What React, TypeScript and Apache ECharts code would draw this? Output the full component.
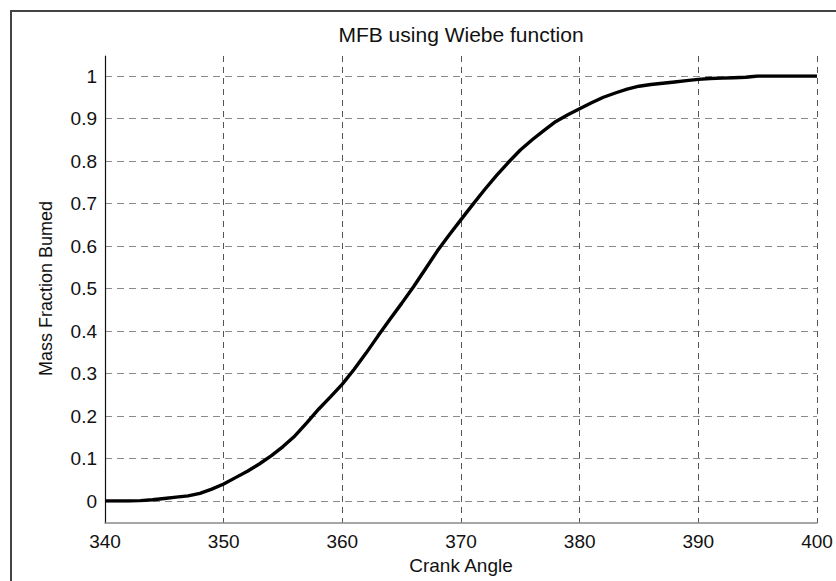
import React, { useEffect, useRef } from "react";
import * as echarts from "echarts";

const crankAngle = [
  340, 341, 342, 343, 344, 345, 346, 347, 348, 349,
  350, 351, 352, 353, 354, 355, 356, 357, 358, 359,
  360, 361, 362, 363, 364, 365, 366, 367, 368, 369,
  370, 371, 372, 373, 374, 375, 376, 377, 378, 379,
  380, 381, 382, 383, 384, 385, 386, 387, 388, 389,
  390, 391, 392, 393, 394, 395, 396, 397, 398, 399, 400,
];

const massFractionBurned = [
  0, 0, 0, 0.001, 0.003, 0.006, 0.009, 0.012, 0.018, 0.028,
  0.04, 0.055, 0.07, 0.087, 0.106, 0.128, 0.153, 0.184, 0.216, 0.245,
  0.275, 0.31, 0.348, 0.388, 0.427, 0.465, 0.504, 0.546, 0.588, 0.626,
  0.662, 0.698, 0.733, 0.766, 0.797, 0.826, 0.85, 0.872, 0.893, 0.909,
  0.923, 0.937, 0.95, 0.96, 0.969, 0.976, 0.98, 0.983, 0.986, 0.989,
  0.992, 0.994, 0.995, 0.996, 0.997, 1, 1, 1, 1, 1, 1,
];

const xTickLabels = ["340", "350", "360", "370", "380", "390", "400"];
const yTickLabels = ["0", "0.1", "0.2", "0.3", "0.4", "0.5", "0.6", "0.7", "0.8", "0.9", "1"];

const titleText = "MFB using Wiebe function";
const xName = "Crank Angle";
const yName = "Mass Fraction Bumed";

export default function App() {
  const ref = useRef<HTMLDivElement>(null);

  useEffect(() => {
    if (!ref.current) return;
    const chart = echarts.init(ref.current, null, { renderer: "svg" });
    const font = '"Liberation Sans", Arial, Helvetica, sans-serif';
    const labelStyle = { color: "#111", fontSize: 19, fontFamily: font };

    chart.setOption({
      animation: false,
      backgroundColor: "#ffffff",
      grid: [
        { left: 105, right: 19, top: 56, bottom: 58 },
        { left: 105, right: 19, top: 76, bottom: 80 },
      ],
      xAxis: [
        {
          gridIndex: 0,
          type: "value",
          min: 340,
          max: 400,
          interval: 10,
          axisLine: { show: true, onZero: false, lineStyle: { color: "#8a8a8a", width: 1.5 } },
          axisTick: { show: false },
          axisLabel: {
            ...labelStyle,
            margin: 9,
            formatter: (v: number) => xTickLabels[Math.round((v - 340) / 10)] ?? String(v),
          },
          splitLine: { show: true, lineStyle: { type: [6, 5], color: "#555", width: 1 } },
          name: xName,
          nameLocation: "middle",
          nameGap: 24,
          nameTextStyle: { color: "#111", fontSize: 19, fontFamily: font, verticalAlign: "top" },
        },
        { gridIndex: 1, type: "value", min: 340, max: 400, show: false },
      ],
      yAxis: [
        {
          gridIndex: 0,
          type: "value",
          min: -0.05,
          max: 1.05,
          axisLine: { show: true, onZero: false, lineStyle: { color: "#111", width: 1.2 } },
          axisTick: { show: false },
          axisLabel: { show: false },
          splitLine: { show: false },
        },
        {
          gridIndex: 1,
          type: "value",
          min: 0,
          max: 1,
          interval: 0.1,
          axisLine: { show: false },
          axisTick: { show: false },
          axisLabel: {
            ...labelStyle,
            margin: 8,
            formatter: (v: number) => yTickLabels[Math.round(v * 10)] ?? String(v),
          },
          splitLine: { show: true, lineStyle: { type: [7, 5], color: "#8a8a8a", width: 1 } },
          name: yName,
          nameLocation: "middle",
          nameGap: 50,
          nameTextStyle: { color: "#111", fontSize: 18, fontFamily: font },
        },
      ],
      series: [
        {
          type: "line",
          xAxisIndex: 1,
          yAxisIndex: 1,
          data: crankAngle.map((a, i) => [a, massFractionBurned[i]]),
          showSymbol: false,
          symbol: "none",
          lineStyle: { color: "#000", width: 3.4 },
          z: 5,
        },
      ],
      graphic: [
        {
          type: "rect",
          shape: { x: 11, y: 11, width: 900, height: 700 },
          style: { fill: "none", stroke: "#444", lineWidth: 2 },
          silent: true,
          z: -1,
        },
        {
          type: "text",
          x: 461,
          y: 34,
          style: {
            text: titleText,
            fill: "#111",
            font: `21px ${font}`,
            textAlign: "center",
            textVerticalAlign: "middle",
          },
        },
      ],
    });

    return () => chart.dispose();
  }, []);

  return (
    <div
      ref={ref}
      style={{ position: "fixed", left: 0, top: 0, width: 836, height: 581, background: "#fff" }}
    />
  );
}
